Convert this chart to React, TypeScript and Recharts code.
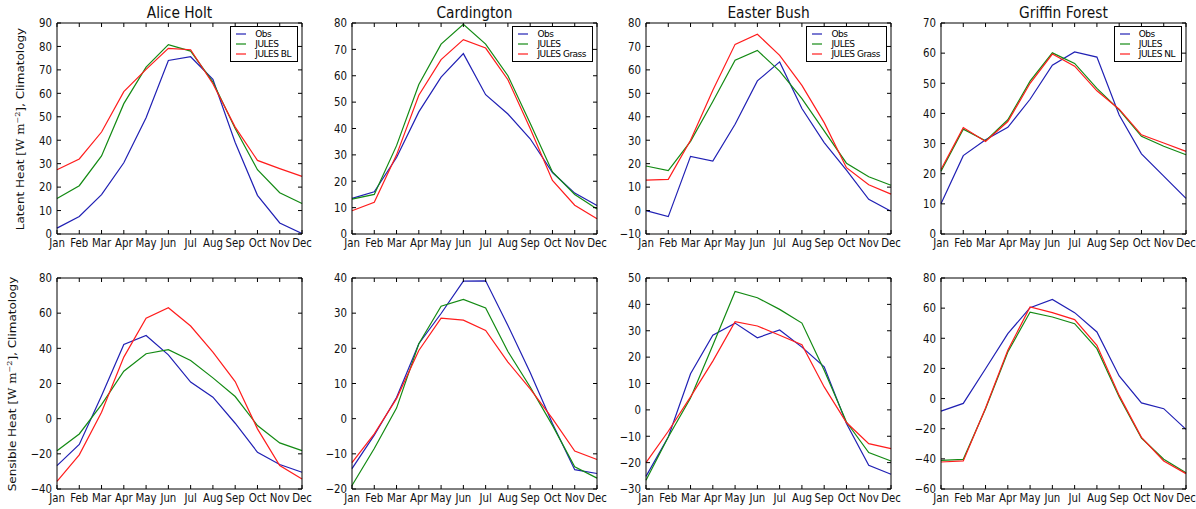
import { LineChart, Line, XAxis, YAxis, Legend } from 'recharts'

const months = ['Jan', 'Feb', 'Mar', 'Apr', 'May', 'Jun', 'Jul', 'Aug', 'Sep', 'Oct', 'Nov', 'Dec']

// latent heat, top row
const aliceLeObs = [2.5, 7.5, 16.8, 30.4, 49.6, 74, 75.6, 66, 39, 16.5, 4.7, 0.2]
const aliceLeJules = [15.1, 20.6, 33.3, 55.6, 71.2, 80.8, 78, 64.8, 45, 27.4, 17.6, 13]
const aliceLeBl = [27.4, 32, 43.5, 60.7, 70.2, 79.2, 78.6, 64.1, 45.6, 31.4, 27.9, 24.6]

const cardLeObs = [13.5, 16, 29, 46.3, 59.5, 68.4, 52.8, 45.5, 36.1, 23.3, 15.5, 10.8]
const cardLeJules = [13.2, 15, 33.5, 56.7, 72, 79.5, 72, 60, 42, 23.5, 15, 9.5]
const cardLeGrass = [8.8, 12, 30, 52.6, 66.1, 73.7, 70.5, 58.5, 40, 20.3, 10.9, 5.8]

const easterLeObs = [0, -2.6, 23.1, 21.1, 36.8, 55.3, 63.4, 43.5, 29, 17.2, 4.8, -0.3]
const easterLeJules = [19, 17, 29.5, 46.5, 64.1, 68.3, 59.5, 47.7, 34, 20.2, 14.4, 10.8]
const easterLeGrass = [13, 13.3, 30, 51.3, 70.9, 75.2, 66.2, 53.4, 37.5, 18.3, 11, 7]

const griffinLeObs = [10, 26, 31.3, 35.4, 44.7, 56, 60.4, 58.7, 39.5, 26.6, 19.2, 11.8]
const griffinLeJules = [20.8, 34.8, 30.9, 37.9, 50.7, 60.1, 56.6, 48.3, 41.2, 32.4, 29.1, 26.3]
const griffinLeNl = [21.4, 35.3, 30.7, 37.3, 50, 59.7, 55.7, 47.5, 41.4, 32.9, 30.2, 27.4]

// sensible heat, bottom row
const aliceHObs = [-26.7, -14.7, 13, 42.2, 47.3, 36.3, 20.8, 12.2, -2.6, -19.1, -26.1, -30.5]
const aliceHJules = [-18.2, -8.7, 8, 27, 36.9, 39.2, 33.1, 23.2, 12.6, -3.9, -13.8, -18.2]
const aliceHBl = [-35.6, -20.6, 3.7, 35, 57.2, 63.1, 52.7, 37.8, 21.1, -5.8, -26.7, -34.3]

const cardHObs = [-14.2, -4.7, 6, 21.3, 29.9, 39.1, 39.2, 26.5, 13.1, -1.4, -14.5, -15.6]
const cardHJules = [-19, -8.5, 3, 21.3, 32, 33.9, 31.5, 19.1, 9, -1.9, -13.7, -16.9]
const cardHGrass = [-12.5, -4.3, 5.7, 19.4, 28.6, 28, 25.1, 16.1, 8.5, 0, -9.2, -11.6]

const easterHObs = [-25.2, -10.3, 13.7, 28.3, 32.9, 27.3, 30.3, 23.8, 16.3, -5.2, -21, -24.4]
const easterHJules = [-26.7, -10.3, 4.5, 24.5, 44.9, 42.5, 38.1, 32.9, 15, -4.6, -16.2, -19.4]
const easterHGrass = [-20, -8.1, 4.9, 18.5, 33.4, 31.8, 28.3, 24.7, 8.7, -4.8, -12.8, -14.7]

const griffinHObs = [-8.3, -3.2, 19.8, 43.1, 60.3, 65.8, 57, 44.2, 15, -2.9, -6.7, -20.4]
const griffinHJules = [-41, -40.3, -6.7, 30.9, 57.4, 54.1, 49.7, 33.1, 1, -26.2, -40.3, -49.2]
const griffinHNl = [-42.1, -41.4, -6.3, 32, 60.8, 57, 52.4, 35.3, 2.1, -25.7, -41.4, -49.8]

const aliceLeTicks = [0, 10, 20, 30, 40, 50, 60, 70, 80, 90]
const cardLeTicks = [0, 10, 20, 30, 40, 50, 60, 70, 80]
const easterLeTicks = [-10, 0, 10, 20, 30, 40, 50, 60, 70, 80]
const griffinLeTicks = [0, 10, 20, 30, 40, 50, 60, 70]
const aliceHTicks = [-40, -20, 0, 20, 40, 60, 80]
const cardHTicks = [-20, -10, 0, 10, 20, 30, 40]
const easterHTicks = [-30, -20, -10, 0, 10, 20, 30, 40, 50]
const griffinHTicks = [-60, -40, -20, 0, 20, 40, 60, 80]

const titles = ['Alice Holt', 'Cardington', 'Easter Bush', 'Griffin Forest']
const altNames = ['JULES BL', 'JULES Grass', 'JULES Grass', 'JULES NL']

const BLUE = '#2020b4'
const GREEN = '#138a13'
const RED = '#ff1c1c'

const PLOT_W = 245
const PLOT_H = 211
const colLeft = [57, 352, 646, 941]
const rowTop = [23, 278]

type Panel = {
  col: number
  row: number
  obs: number[]
  jules: number[]
  alt: number[]
  ticks: number[]
}

const panels: Panel[] = [
  { col: 0, row: 0, obs: aliceLeObs, jules: aliceLeJules, alt: aliceLeBl, ticks: aliceLeTicks },
  { col: 1, row: 0, obs: cardLeObs, jules: cardLeJules, alt: cardLeGrass, ticks: cardLeTicks },
  { col: 2, row: 0, obs: easterLeObs, jules: easterLeJules, alt: easterLeGrass, ticks: easterLeTicks },
  { col: 3, row: 0, obs: griffinLeObs, jules: griffinLeJules, alt: griffinLeNl, ticks: griffinLeTicks },
  { col: 0, row: 1, obs: aliceHObs, jules: aliceHJules, alt: aliceHBl, ticks: aliceHTicks },
  { col: 1, row: 1, obs: cardHObs, jules: cardHJules, alt: cardHGrass, ticks: cardHTicks },
  { col: 2, row: 1, obs: easterHObs, jules: easterHJules, alt: easterHGrass, ticks: easterHTicks },
  { col: 3, row: 1, obs: griffinHObs, jules: griffinHJules, alt: griffinHNl, ticks: griffinHTicks },
]

const fmt = (v: number) => (v < 0 ? '\u2212' + Math.abs(v) : String(v))
const SQUISH = 'scale(0.85,1)'

function BottomTick(props: any) {
  const { x, y, payload } = props
  return (
    <g transform={`translate(${x},${y})`}>
      <line x1={0} x2={0} y1={0} y2={-4} stroke="#000" />
      <text y={13.5} textAnchor="middle" fontSize={12} fill="#111" fontFamily="DejaVu Sans" transform={SQUISH}>
        {payload.value}
      </text>
    </g>
  )
}

function TopTick(props: any) {
  const { x, y } = props
  return <line x1={x} x2={x} y1={y} y2={y + 4} stroke="#000" />
}

function LeftTick(props: any) {
  const { x, y, payload } = props
  return (
    <g transform={`translate(${x},${y})`}>
      <line x1={0} x2={4} y1={0} y2={0} stroke="#000" />
      <text
        transform={`translate(-5,0) ${SQUISH}`}
        textAnchor="end"
        dy="0.36em"
        fontSize={12}
        fill="#111"
        fontFamily="DejaVu Sans"
      >
        {fmt(payload.value)}
      </text>
    </g>
  )
}

function RightTick(props: any) {
  const { x, y } = props
  return <line x1={x} x2={x - 4} y1={y} y2={y} stroke="#000" />
}

function LegendBox(props: any) {
  const order: string[] = props.order || []
  const items = [...(props.payload || [])].sort(
    (a: any, b: any) => order.indexOf(a.value) - order.indexOf(b.value)
  )
  return (
    <div style={{ border: '1px solid #000', background: '#fff', padding: '2px 6px 2px 4px' }}>
      {items.map((it: any) => (
        <div key={it.value} style={{ display: 'flex', alignItems: 'center', height: 10 }}>
          <svg width={14} height={10} style={{ marginRight: 6 }}>
            <line x1={1} x2={11} y1={5} y2={5} stroke={it.color} strokeWidth={1.2} />
          </svg>
          <span style={{ fontSize: 9, letterSpacing: -0.5, lineHeight: '10px', color: '#000', fontFamily: 'DejaVu Sans' }}>
            {it.value}
          </span>
        </div>
      ))}
    </div>
  )
}

function PanelChart({ p }: { p: Panel }) {
  const data = months.map((m, i) => ({ m, obs: p.obs[i], jules: p.jules[i], alt: p.alt[i] }))
  const domain: [number, number] = [p.ticks[0], p.ticks[p.ticks.length - 1]]
  const axisLine = { stroke: '#000', strokeWidth: 1 }
  const altName = altNames[p.col]
  return (
    <div style={{ position: 'absolute', left: colLeft[p.col] - 60, top: rowTop[p.row] - 5 }}>
      <LineChart width={PLOT_W + 70} height={PLOT_H + 30} data={data} margin={{ top: 0, right: 5, bottom: 0, left: 0 }}>
        <XAxis xAxisId="top" orientation="top" dataKey="m" height={5} interval={0} tickSize={0} tickMargin={0} tickLine={false} tick={<TopTick />} axisLine={axisLine} />
        <XAxis dataKey="m" height={25} interval={0} tickSize={0} tickMargin={0} tickLine={false} tick={<BottomTick />} axisLine={axisLine} />
        <YAxis yAxisId="right" orientation="right" width={5} type="number" domain={domain} ticks={p.ticks} interval={0} allowDataOverflow tickSize={0} tickMargin={0} tickLine={false} tick={<RightTick />} axisLine={axisLine} />
        <YAxis width={60} type="number" domain={domain} ticks={p.ticks} interval={0} allowDataOverflow tickSize={0} tickMargin={0} tickLine={false} tick={<LeftTick />} axisLine={axisLine} />
        <Line xAxisId="top" yAxisId="right" type="linear" dataKey="obs" name="Obs" stroke={BLUE} strokeWidth={1.2} dot={false} isAnimationActive={false} />
        <Line type="linear" dataKey="jules" name="JULES" stroke={GREEN} strokeWidth={1.2} dot={false} isAnimationActive={false} />
        <Line type="linear" dataKey="alt" name={altName} stroke={RED} strokeWidth={1.2} dot={false} isAnimationActive={false} />
        {p.row === 0 && (
          <Legend
            layout="vertical"
            align="center"
            verticalAlign="middle"
            content={<LegendBox order={['Obs', 'JULES', altName]} />}
            wrapperStyle={{ top: 8, right: 14, left: 'auto', width: 'auto' }}
          />
        )}
      </LineChart>
    </div>
  )
}

function YLabel({ text, cx, cy }: { text: string; cx: number; cy: number }) {
  return (
    <div
      style={{
        position: 'absolute',
        left: cx,
        top: cy,
        transform: 'translate(-50%,-50%) rotate(-90deg) scaleY(0.85)',
        whiteSpace: 'nowrap',
        fontFamily: 'DejaVu Sans',
        fontSize: 12,
        lineHeight: '14px',
        color: '#111',
      }}
    >
      {text} [<span style={{ fontFamily: 'DejaVu Serif' }}>W m</span>
      <sup style={{ fontSize: 8, lineHeight: 0, fontFamily: 'DejaVu Serif' }}>{'\u22122'}</sup>], Climatology
    </div>
  )
}

export default function App() {
  return (
    <div style={{ position: 'absolute', left: 0, top: 0, width: 1196, height: 509, background: '#fff', overflow: 'hidden' }}>
      {titles.map((t, i) => (
        <div
          key={t}
          style={{
            position: 'absolute',
            left: colLeft[i],
            top: 4,
            width: PLOT_W,
            textAlign: 'center',
            fontFamily: 'DejaVu Sans',
            fontSize: 16,
            lineHeight: '18px',
            color: '#111',
            transform: 'scaleX(0.86)',
          }}
        >
          {t}
        </div>
      ))}
      {panels.map((p, i) => (
        <PanelChart key={i} p={p} />
      ))}
      <YLabel text="Latent Heat" cx={21} cy={128.5} />
      <YLabel text="Sensible Heat" cx={13} cy={383.5} />
    </div>
  )
}
